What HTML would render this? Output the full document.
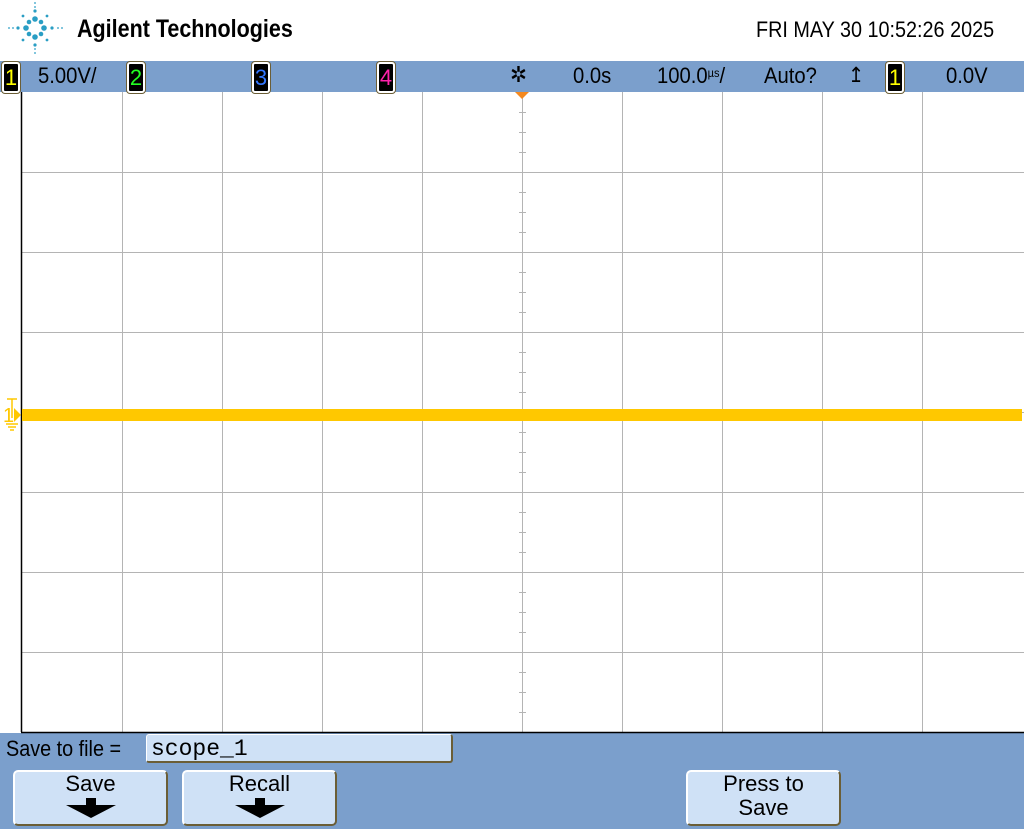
<!DOCTYPE html>
<html><head><meta charset="utf-8">
<style>
html,body{margin:0;padding:0;width:1024px;height:829px;overflow:hidden;background:#fff;font-family:"Liberation Sans",sans-serif;}
.abs{position:absolute;}
.bar{left:0;top:61px;width:1024px;height:31px;background:#7b9fcc;}
.t{position:absolute;font-size:21px;color:#000;top:63px;transform:scaleX(0.92);transform-origin:left top;}
.ch{position:absolute;top:62px;width:14px;height:27px;background:#000;border:2px solid #fff;border-radius:3px;color:#ff0;font-size:22px;text-align:center;line-height:27px;box-shadow:0 0 0 1px #6b5e36;}
.btn{position:absolute;top:770px;height:52px;background:#cfe1f6;border:2px solid #fff;border-right-color:#6b5e36;border-bottom-color:#6b5e36;border-radius:5px;text-align:center;font-size:22px;line-height:24px;}
.btn svg{display:block;margin:2px auto 0;}
</style></head><body>
<div class="abs" style="left:0;top:733px;width:1024px;height:96px;background:#7b9fcc;"></div>
<div class="abs" style="left:6px;top:0px;width:60px;height:56px;">
<svg width="60" height="56" viewBox="0 0 60 56">
<g fill="#2a9ec4">
<circle cx="36" cy="27" r="0"/>
<circle cx="29" cy="19" r="2.8"/><circle cx="29" cy="37" r="2.8"/><circle cx="20" cy="28" r="2.8"/><circle cx="38" cy="28" r="2.8"/>
<circle cx="23" cy="22" r="2.3"/><circle cx="35" cy="22" r="2.3"/><circle cx="23" cy="34" r="2.3"/><circle cx="35" cy="34" r="2.3"/>
<circle cx="29" cy="11" r="1.6"/><circle cx="29" cy="45" r="1.6"/><circle cx="12" cy="28" r="1.6"/><circle cx="46" cy="28" r="1.6"/>
<circle cx="17" cy="16" r="1.4"/><circle cx="41" cy="16" r="1.4"/><circle cx="17" cy="40" r="1.4"/><circle cx="41" cy="40" r="1.4"/>
<circle cx="29" cy="3" r="0.9"/><circle cx="29" cy="53" r="0.9"/><circle cx="3" cy="28" r="0.9"/><circle cx="56" cy="28" r="0.9"/>
<circle cx="29" cy="7" r="0.9"/><circle cx="29" cy="49" r="0.9"/><circle cx="7" cy="28" r="0.9"/><circle cx="52" cy="28" r="0.9"/>
</g></svg></div>
<div class="abs" style="left:77px;top:15px;font-size:25px;font-weight:bold;transform:scaleX(0.86);transform-origin:left top;">Agilent Technologies</div>
<div class="abs" style="left:756px;top:17px;font-size:22px;transform:scaleX(0.9);transform-origin:left top;">FRI MAY 30 10:52:26 2025</div>

<div class="abs bar"></div>
<div class="ch" style="left:2px;">1</div>
<div class="t" style="left:38px;font-size:22px;">5.00V/</div>
<div class="ch" style="left:127px;color:#2f2;">2</div>
<div class="ch" style="left:252px;color:#37f;">3</div>
<div class="ch" style="left:377px;color:#f2a;">4</div>
<div class="t" style="left:510px;top:62px;font-size:22px;">✲</div>
<div class="t" style="left:573px;font-size:22px;">0.0s</div>
<div class="t" style="left:657px;font-size:22px;">100.0<span style="font-size:12px;vertical-align:6px;">µs</span>/</div>
<div class="t" style="left:764px;font-size:22px;">Auto?</div>
<div class="t" style="left:848px;">↥</div>
<div class="ch" style="left:886px;">1</div>
<div class="t" style="left:946px;font-size:22px;">0.0V</div>

<svg class="abs" style="left:0;top:92px;" width="1024" height="642" id="plot"></svg>

<div class="abs" style="left:6px;top:736px;font-size:22px;transform:scaleX(0.9);transform-origin:left top;">Save to file =</div>
<div class="abs" style="left:146px;top:734px;width:307px;height:29px;background:#cfe1f6;border:1px solid #fff;border-right:2px solid #6b5e36;border-bottom:2px solid #6b5e36;border-radius:3px;font-family:'Liberation Mono',monospace;font-size:23px;line-height:28px;padding-left:4px;box-sizing:border-box;">scope_1</div>
<div class="btn" style="left:13px;width:151px;">Save<svg width="50" height="20"><polygon points="20,0 30,0 30,7 50,7 25,20 0,7 20,7" fill="#000"/></svg></div>
<div class="btn" style="left:182px;width:151px;">Recall<svg width="50" height="20"><polygon points="20,0 30,0 30,7 50,7 25,20 0,7 20,7" fill="#000"/></svg></div>
<div class="btn" style="left:686px;width:151px;">Press to<br>Save</div>

<script>
const voltsPerDiv = [5.0];
const timePerDiv = [100e-6];
const sampleTimes = [-500e-6,-400e-6,-300e-6,-200e-6,-100e-6,0,100e-6,200e-6,300e-6,400e-6,500e-6];
const samples = [0,0,0,0,0,0,0,0,0,0,0];
const channelOffset = [0.0];

const NS="http://www.w3.org/2000/svg";
const svg=document.getElementById('plot');
const X0=22,X1=1022,CX=522,CY=323;
function xs(t){return CX+t/timePerDiv[0]*100;}
function ys(v){return CY-(v-channelOffset[0])/voltsPerDiv[0]*80;}
function mk(tag,a){const e=document.createElementNS(NS,tag);for(const k in a)e.setAttribute(k,a[k]);svg.appendChild(e);return e;}
for(let i=1;i<10;i++){const l=mk('line',{x1:X0+i*100+.5,y1:0,x2:X0+i*100+.5,y2:640,stroke:'#b4b4b4','stroke-width':1});

}
for(let j=1;j<8;j++){const l=mk('line',{x1:X0,y1:j*80+.5,x2:1024,y2:j*80+.5,stroke:'#b4b4b4','stroke-width':1});

}
for(let y=20;y<640;y+=20){if(y%80===0)continue;const l=mk('line',{x1:CX-3,y1:y+.5,x2:CX+4,y2:y+.5,stroke:'#b4b4b4','stroke-width':1});

}
const b1=mk('line',{x1:21.5,y1:0,x2:21.5,y2:640,stroke:'#000','stroke-width':1.5});


const b2=mk('line',{x1:21,y1:640.5,x2:1024,y2:640.5,stroke:'#000','stroke-width':1.5});


const tm=mk('polygon',{points:`${CX-7},0 ${CX+7},0 ${CX},7`,fill:'#f5891f'});


let d='';sampleTimes.forEach((t,i)=>{let x=Math.max(X0,Math.min(X1,xs(t)));d+=(i?'L':'M')+x+','+ys(samples[i]);});
const tr=mk('path',{d:d,stroke:'#ffc800','stroke-width':12,fill:'none'});


const gm=mk('text',{x:3,y:ys(channelOffset[0])+7,fill:'#ffc800','font-size':20,'font-family':'Liberation Sans'});
gm.textContent='1';


const ga=mk('polygon',{points:`14,${ys(0)-7} 21,${ys(0)} 14,${ys(0)+7}`,fill:'#ffc800'});


const tt=mk('path',{d:`M7,${ys(0)-16} H17 M12,${ys(0)-16} V${ys(0)+3} M6,${ys(0)+9} H18 M8,${ys(0)+12} H16 M10,${ys(0)+15} H14`,stroke:'#ffc800','stroke-width':1.5,fill:'none'});


</script>
</body></html>
